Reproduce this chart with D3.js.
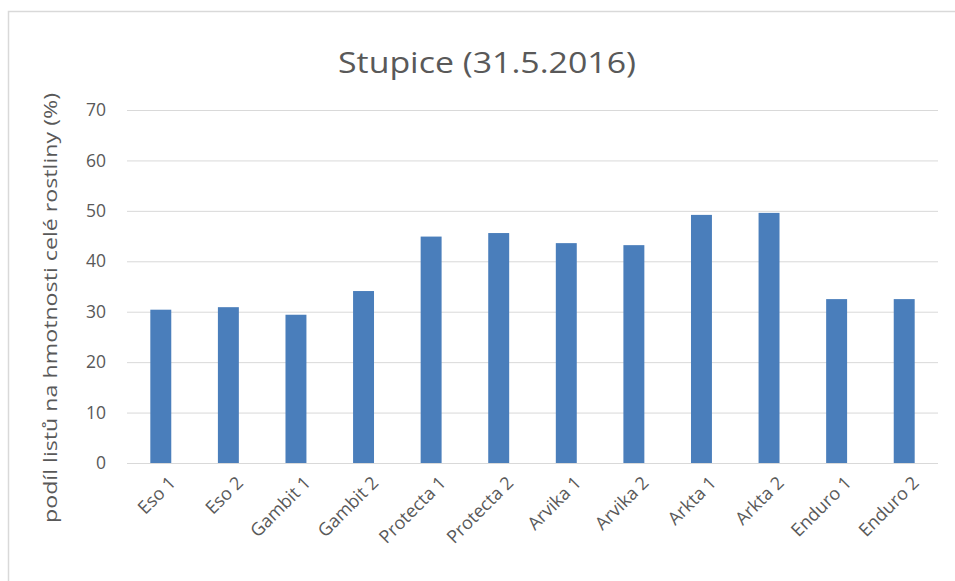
<!DOCTYPE html>
<html>
<head>
<meta charset="utf-8">
<script src="https://cdn.jsdelivr.net/npm/d3@7"></script>
<style>
  body { margin: 0; background: #fff; }
  text { font-family: "Open Sans", "Noto Sans", sans-serif; fill: #595959; }
</style>
</head>
<body>
<svg id="chart" width="955" height="581"></svg>
<script>
// data
let categories = ["Eso 1", "Eso 2", "Gambit 1", "Gambit 2", "Protecta 1", "Protecta 2",
                  "Arvika 1", "Arvika 2", "Arkta 1", "Arkta 2", "Enduro 1", "Enduro 2"];
let values = [30.4, 30.9, 29.4, 34.1, 44.9, 45.6, 43.6, 43.2, 49.2, 49.6, 32.5, 32.5];
let yTicks = [0, 10, 20, 30, 40, 50, 60, 70];
let title = "Stupice (31.5.2016)";
let yLabel = "podíl listů na hmotnosti celé rostliny (%)";

let svg = d3.select("svg#chart"),
    margin = {top: 110, right: 17, bottom: 118, left: 127},
    width = +svg.attr("width") - margin.left - margin.right,
    height = +svg.attr("height") - margin.top - margin.bottom;

// chart frame
svg.append("path")
    .attr("d", "M8.5,581 V11.5 H955")
    .attr("fill", "none")
    .attr("stroke", "#d9d9d9")
    .attr("stroke-width", 1.5);

let g = svg.append("g").attr("transform", "translate(" + margin.left + "," + margin.top + ")");

let x = d3.scaleBand()
    .domain(categories)
    .range([0, width])
    .paddingInner(0.69)
    .paddingOuter(0.345);

let y = d3.scaleLinear()
    .domain([0, 70])
    .range([height, 0]);

// gridlines
g.append("g")
    .selectAll("line")
    .data(yTicks)
    .enter().append("line")
    .attr("x1", 0)
    .attr("x2", width)
    .attr("y1", d => y(d) + 0.5)
    .attr("y2", d => y(d) + 0.5)
    .attr("stroke", "#d9d9d9")
    .attr("stroke-width", 1);

// y axis labels
let yAxis = g.append("g")
    .call(d3.axisLeft(y).tickValues(yTicks).tickSize(0).tickPadding(21));
yAxis.select(".domain").remove();
yAxis.selectAll("text")
    .style("font-size", "17.5px")
    .style("fill", "#595959");

// bars
g.append("g")
    .selectAll("rect")
    .data(values)
    .enter().append("rect")
    .attr("x", (d, i) => x(categories[i]))
    .attr("y", d => y(d))
    .attr("width", x.bandwidth())
    .attr("height", d => height - y(d))
    .attr("fill", "#4a7ebb");

// x labels: a group per label, text rotated inside it
let xl = g.append("g")
    .selectAll("g")
    .data(categories)
    .enter().append("g")
    .attr("transform", d => "translate(" + (x(d) + x.bandwidth() / 2 + 7) + "," + (height + 12) + ")");
xl.append("text")
    .attr("transform", "rotate(-45)")
    .attr("text-anchor", "end")
    .attr("dy", "0.7em")
    .style("font-size", "18px")
    .text(d => d);

// title
svg.append("text")
    .attr("x", 487)
    .attr("y", 73)
    .attr("text-anchor", "middle")
    .style("font-size", "30px")
    .attr("textLength", 298)
    .attr("lengthAdjust", "spacingAndGlyphs")
    .text(title);

// y axis title
svg.append("text")
    .attr("transform", "translate(57,308) rotate(-90)")
    .attr("text-anchor", "middle")
    .style("font-size", "18px")
    .attr("textLength", 430)
    .attr("lengthAdjust", "spacingAndGlyphs")
    .text(yLabel);
</script>
</body>
</html>
